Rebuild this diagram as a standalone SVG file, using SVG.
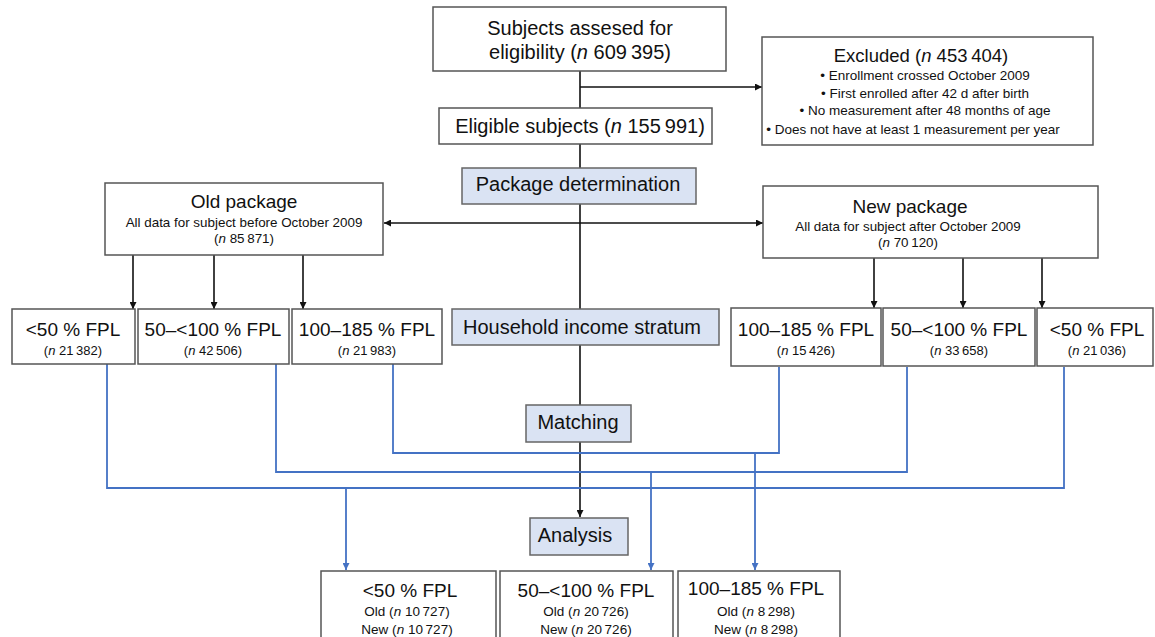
<svg xmlns="http://www.w3.org/2000/svg" width="1155" height="637" viewBox="0 0 1155 637">
<defs>
<marker id="ab" viewBox="0 0 10 10" refX="10" refY="5" markerWidth="7" markerHeight="7" markerUnits="userSpaceOnUse" orient="auto-start-reverse"><path d="M0,0 L10,5 L0,10 z" fill="#111"/></marker>
<marker id="au" viewBox="0 0 10 10" refX="10" refY="5" markerWidth="7" markerHeight="7" markerUnits="userSpaceOnUse" orient="auto"><path d="M0,0 L10,5 L0,10 z" fill="#4472C4"/></marker>
<style>
.box{fill:#fff;stroke:#555;stroke-width:1.5}
.step{fill:#dae3f3;stroke:#666;stroke-width:1.5}
.k{fill:none;stroke:#111;stroke-width:1.6}
.b{fill:none;stroke:#4472C4;stroke-width:1.8}
text{font-family:"Liberation Sans",Arial,sans-serif;fill:#111;text-anchor:middle}
.t{font-size:19px}
.m{font-size:20px}
.e{font-size:18.5px}
.s{font-size:13.4px}
.xs{font-size:13.5px}
.f{font-size:13px}
.g{font-size:13.5px}
</style>
</defs>
<g id="connectors">
<line class="k" x1="580" y1="71" x2="580" y2="517" marker-end="url(#ab)"/>
<line class="k" x1="580" y1="87" x2="762" y2="87" marker-end="url(#ab)"/>
<line class="k" x1="384" y1="223" x2="763" y2="223" marker-start="url(#ab)" marker-end="url(#ab)"/>
<line class="k" x1="133" y1="255" x2="133" y2="309" marker-end="url(#ab)"/>
<line class="k" x1="214" y1="255" x2="214" y2="309" marker-end="url(#ab)"/>
<line class="k" x1="303" y1="255" x2="303" y2="309" marker-end="url(#ab)"/>
<line class="k" x1="874" y1="258" x2="874" y2="308" marker-end="url(#ab)"/>
<line class="k" x1="963" y1="258" x2="963" y2="308" marker-end="url(#ab)"/>
<line class="k" x1="1042" y1="258" x2="1042" y2="308" marker-end="url(#ab)"/>
<polyline class="b" points="107,364 107,488 1064,488 1064,367"/>
<polyline class="b" points="276,364 276,472 907,472 907,367"/>
<polyline class="b" points="393,364 393,453 779,453 779,367"/>
<line class="b" x1="346" y1="488" x2="346" y2="570" marker-end="url(#au)"/>
<line class="b" x1="651" y1="472" x2="651" y2="570" marker-end="url(#au)"/>
<line class="b" x1="755" y1="453" x2="755" y2="570" marker-end="url(#au)"/>
</g>
<g id="assessed">
<rect class="box" x="433" y="7" width="293" height="64"/>
<text class="m" x="580" y="35">Subjects assesed for</text>
<text class="m" x="580" y="59">eligibility (<tspan font-style="italic">n</tspan> 609&#8201;395)</text>
</g>
<g id="excluded">
<rect class="box" x="762" y="37" width="331" height="108"/>
<text class="e" x="921" y="62">Excluded (<tspan font-style="italic">n</tspan> 453&#8201;404)</text>
<text class="xs" x="925" y="80">• Enrollment crossed October 2009</text>
<text class="xs" x="925" y="98">• First enrolled after 42 d after birth</text>
<text class="xs" x="925" y="115">• No measurement after 48 months of age</text>
<text class="xs" x="913" y="134">• Does not have at least 1 measurement per year</text>
</g>
<g id="eligible">
<rect class="box" x="439" y="108" width="273" height="36"/>
<text class="m" x="580" y="133">Eligible subjects (<tspan font-style="italic">n</tspan> 155&#8201;991)</text>
</g>
<g id="package-determination">
<rect class="step" x="462" y="168" width="234" height="36"/>
<text class="m" x="578" y="191">Package determination</text>
</g>
<g id="old-package">
<rect class="box" x="105" y="183" width="278" height="72"/>
<text class="t" x="244" y="208">Old package</text>
<text class="s" x="244" y="227">All data for subject before October 2009</text>
<text class="s" x="244" y="243">(<tspan font-style="italic">n</tspan> 85&#8201;871)</text>
</g>
<g id="new-package">
<rect class="box" x="763" y="186" width="335" height="72"/>
<text class="t" x="910" y="213">New package</text>
<text class="s" x="908" y="231">All data for subject after October 2009</text>
<text class="s" x="908" y="247">(<tspan font-style="italic">n</tspan> 70&#8201;120)</text>
</g>
<g id="old-lt50">
<rect class="box" x="12" y="309" width="123" height="55"/>
<text class="t" x="73" y="336">&lt;50 % FPL</text>
<text class="f" x="73" y="355">(<tspan font-style="italic">n</tspan> 21&#8201;382)</text>
</g>
<g id="old-50-100">
<rect class="box" x="138" y="309" width="151" height="55"/>
<text class="t" x="213" y="336">50–&lt;100 % FPL</text>
<text class="f" x="213" y="355">(<tspan font-style="italic">n</tspan> 42&#8201;506)</text>
</g>
<g id="old-100-185">
<rect class="box" x="292" y="309" width="150" height="55"/>
<text class="t" x="367" y="336">100–185 % FPL</text>
<text class="f" x="367" y="355">(<tspan font-style="italic">n</tspan> 21&#8201;983)</text>
</g>
<g id="household">
<rect class="step" x="452" y="309" width="267" height="36"/>
<text class="m" x="582" y="334">Household income stratum</text>
</g>
<g id="new-100-185">
<rect class="box" x="731" y="308" width="150" height="58"/>
<text class="t" x="806" y="336">100–185 % FPL</text>
<text class="f" x="806" y="355">(<tspan font-style="italic">n</tspan> 15&#8201;426)</text>
</g>
<g id="new-50-100">
<rect class="box" x="883" y="308" width="152" height="58"/>
<text class="t" x="959" y="336">50–&lt;100 % FPL</text>
<text class="f" x="959" y="355">(<tspan font-style="italic">n</tspan> 33&#8201;658)</text>
</g>
<g id="new-lt50">
<rect class="box" x="1037" y="308" width="116" height="58"/>
<text class="t" x="1097" y="336">&lt;50 % FPL</text>
<text class="f" x="1097" y="355">(<tspan font-style="italic">n</tspan> 21&#8201;036)</text>
</g>
<g id="matching">
<rect class="step" x="526" y="405" width="105" height="37"/>
<text class="m" x="578" y="429">Matching</text>
</g>
<g id="analysis">
<rect class="step" x="530" y="518" width="98" height="37"/>
<text class="m" x="575" y="542">Analysis</text>
</g>
<g id="res-lt50">
<rect class="box" x="321" y="571" width="175" height="72"/>
<text class="t" x="410" y="597">&lt;50 % FPL</text>
<text class="g" x="407" y="616">Old (<tspan font-style="italic">n</tspan> 10&#8201;727)</text>
<text class="g" x="407" y="634">New (<tspan font-style="italic">n</tspan> 10&#8201;727)</text>
</g>
<g id="res-50-100">
<rect class="box" x="500" y="571" width="173" height="72"/>
<text class="t" x="586" y="597">50–&lt;100 % FPL</text>
<text class="g" x="586" y="616">Old (<tspan font-style="italic">n</tspan> 20&#8201;726)</text>
<text class="g" x="586" y="634">New (<tspan font-style="italic">n</tspan> 20&#8201;726)</text>
</g>
<g id="res-100-185">
<rect class="box" x="678" y="571" width="162" height="72"/>
<text class="t" x="756" y="595">100–185 % FPL</text>
<text class="g" x="756" y="616">Old (<tspan font-style="italic">n</tspan> 8&#8201;298)</text>
<text class="g" x="756" y="634">New (<tspan font-style="italic">n</tspan> 8&#8201;298)</text>
</g>
</svg>
